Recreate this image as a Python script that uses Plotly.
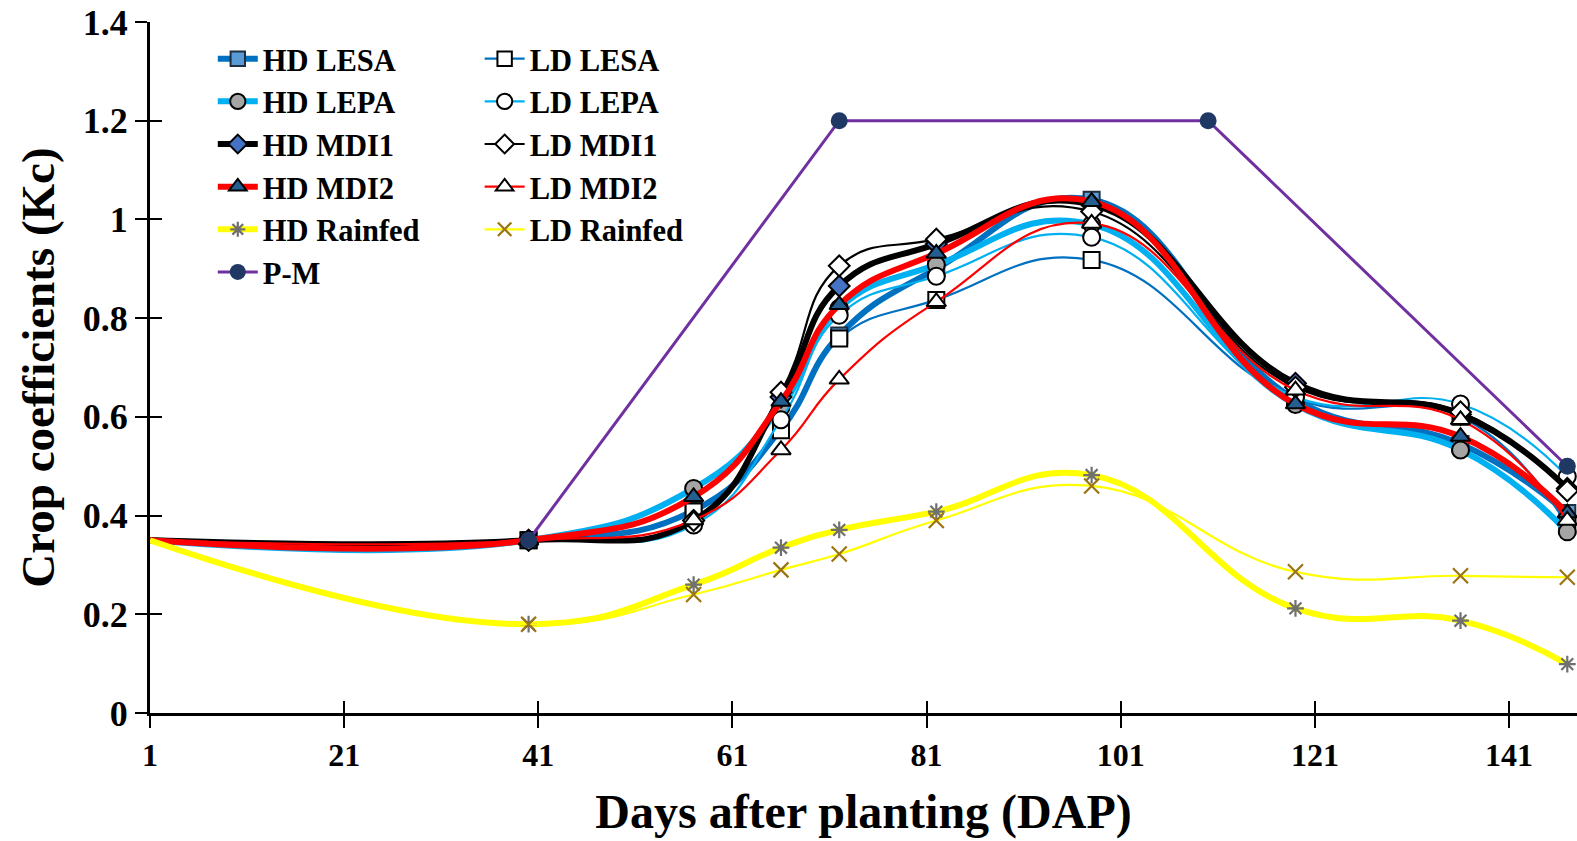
import plotly.graph_objects as go

days = [1, 40, 57, 66, 72, 82, 98, 119, 136, 147]

hd_lesa = [0.35, 0.35, 0.41, 0.575, 0.765, 0.90, 1.04, 0.635, 0.545, 0.405]
ld_lesa = [0.35, 0.35, 0.408, 0.573, 0.759, 0.837, 0.918, 0.637, 0.60, 0.38]
hd_lepa = [0.35, 0.35, 0.455, 0.62, 0.82, 0.908, 0.99, 0.625, 0.533, 0.367]
ld_lepa = [0.35, 0.35, 0.381, 0.594, 0.806, 0.885, 0.964, 0.64, 0.626, 0.479]
hd_mdi1 = [0.35, 0.35, 0.39, 0.64, 0.865, 0.95, 1.03, 0.668, 0.605, 0.455]
ld_mdi1 = [0.35, 0.35, 0.39, 0.65, 0.906, 0.96, 1.016, 0.66, 0.61, 0.45]
hd_mdi2 = [0.35, 0.35, 0.438, 0.631, 0.827, 0.931, 1.036, 0.626, 0.56, 0.405]
ld_mdi2 = [0.35, 0.35, 0.391, 0.533, 0.676, 0.833, 0.992, 0.654, 0.594, 0.39]
hd_rain = [0.35, 0.18, 0.26, 0.335, 0.371, 0.408, 0.482, 0.212, 0.187, 0.099]
ld_rain = [0.35, 0.18, 0.24, 0.29, 0.322, 0.39, 0.46, 0.286, 0.278, 0.275]

pm_days = [40, 72, 110, 147]
pm_vals = [0.35, 1.2, 1.2, 0.5]

xticks = [1, 21, 41, 61, 81, 101, 121, 141]
yticks = [0, 0.2, 0.4, 0.6, 0.8, 1.0, 1.2, 1.4]
ytick_text = ["0", "0.2", "0.4", "0.6", "0.8", "1", "1.2", "1.4"]

FONT = "Liberation Serif"
fig = go.Figure()


def add(name, y, color, width, symbol, msize, mfill, mline, legend, mlw=2):
    sizes = [0] + [msize] * (len(days) - 1)
    fig.add_trace(go.Scatter(
        x=days, y=y, name=name, mode="lines+markers",
        line=dict(color=color, width=width, shape="spline", smoothing=1.3),
        marker=dict(symbol=symbol, size=sizes, color=mfill, opacity=1,
                    line=dict(color=mline, width=mlw)),
        legend=legend, cliponaxis=False))


add("HD LESA", hd_lesa, "#0070C0", 6, "square", 16, "#5B9BD5", "#1F2F3F", "legend")
add("LD LESA", ld_lesa, "#0070C0", 2.2, "square", 16, "white", "black", "legend2")
add("HD LEPA", hd_lepa, "#00B0F0", 6, "circle", 17, "#A5A5A5", "black", "legend")
add("LD LEPA", ld_lepa, "#00B0F0", 2.2, "circle", 17, "white", "black", "legend2")
add("HD MDI1", hd_mdi1, "#000000", 6, "diamond", 16, "#4472C4", "black", "legend")
add("LD MDI1", ld_mdi1, "#000000", 2.2, "diamond", 16, "white", "black", "legend2")
add("HD MDI2", hd_mdi2, "#FF0000", 6, "triangle-up", 17, "#255E91", "black", "legend")
add("LD MDI2", ld_mdi2, "#FF0000", 2.2, "triangle-up", 17, "white", "black", "legend2")
add("HD Rainfed", hd_rain, "#FFFF00", 6, "asterisk-open", 14, "#707070", "#707070", "legend", 2.2)
add("LD Rainfed", ld_rain, "#FFFF00", 2.2, "x-thin-open", 15, "#9C7412", "#9C7412", "legend2", 2.2)

fig.add_trace(go.Scatter(
    x=pm_days, y=pm_vals, name="P-M", mode="lines+markers",
    line=dict(color="#7030A0", width=3),
    marker=dict(symbol="circle", size=17, color="#203864", opacity=1),
    legend="legend", cliponaxis=False))

# dummy trace for inner tick axes
fig.add_trace(go.Scatter(x=[1], y=[0], xaxis="x2", yaxis="y2", mode="markers",
                         marker=dict(size=0, opacity=0), showlegend=False,
                         hoverinfo="skip"))

xr = [1, 148]
yr = [0, 1.4]
fig.update_layout(
    width=1577, height=841,
    margin=dict(l=150, r=0, t=22, b=128),
    paper_bgcolor="white", plot_bgcolor="white",
    font=dict(family=FONT, color="black"),
    xaxis=dict(range=xr, tickvals=xticks, ticks="outside", ticklen=12, tickwidth=1.5,
               tickcolor="black", showline=True, linecolor="black", linewidth=3,
               showgrid=False, zeroline=False,
               tickfont=dict(family=FONT, size=32, weight="bold"),
               title=dict(text="Days after planting (DAP)", standoff=22,
                          font=dict(family=FONT, size=48, weight="bold"))),
    yaxis=dict(range=yr, tickvals=yticks, ticktext=ytick_text, ticks="outside",
               ticklen=12, tickwidth=1.5, tickcolor="black", showline=True,
               linecolor="black", linewidth=3, showgrid=False, zeroline=False,
               tickfont=dict(family=FONT, size=36, weight="bold"),
               title=dict(text="Crop coefficients (Kc)", standoff=14,
                          font=dict(family=FONT, size=47, weight="bold"))),
    xaxis2=dict(range=xr, tickvals=xticks, ticks="inside", ticklen=12, tickwidth=1.5,
                tickcolor="black", showticklabels=False, showline=False,
                showgrid=False, zeroline=False, overlaying="x", anchor="y2"),
    yaxis2=dict(range=yr, tickvals=yticks, ticks="inside", ticklen=12, tickwidth=1.5,
                tickcolor="black", showticklabels=False, showline=False,
                showgrid=False, zeroline=False, overlaying="y", anchor="x2", side="left"),
    legend=dict(x=0.044, y=0.985, xanchor="left", yanchor="top",
                bgcolor="rgba(0,0,0,0)", tracegroupgap=0, itemwidth=40,
                font=dict(family=FONT, size=30.5, weight="bold")),
    legend2=dict(x=0.231, y=0.985, xanchor="left", yanchor="top",
                 bgcolor="rgba(0,0,0,0)", tracegroupgap=0, itemwidth=40,
                 font=dict(family=FONT, size=30.5, weight="bold")),
)

fig.write_html("out.html")
